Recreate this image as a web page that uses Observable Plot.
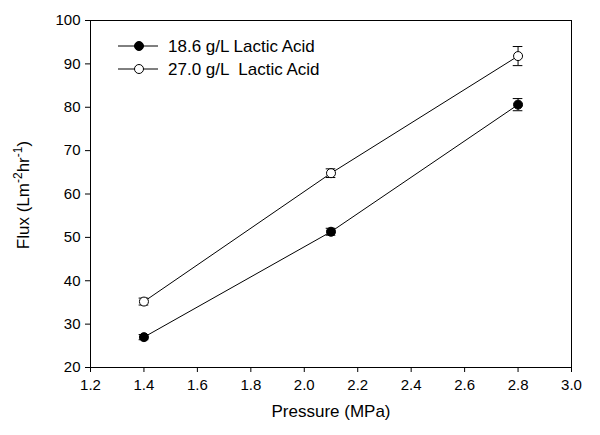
<!DOCTYPE html>
<html>
<head>
<meta charset="utf-8">
<script src="https://cdn.jsdelivr.net/npm/d3@7"></script>
<script src="https://cdn.jsdelivr.net/npm/@observablehq/plot@0.6"></script>
<style>
  html, body { margin: 0; padding: 0; background: #fff; }
  svg { font-family: "Liberation Sans", Arial, sans-serif; }
</style>
</head>
<body>
<div id="chart"></div>
<script>
const pressure = [1.4, 2.1, 2.8];
const flux186 = [27.0, 51.3, 80.6];
const err186 = [0.6, 0.8, 1.4];
const flux270 = [35.2, 64.8, 91.8];
const err270 = [0.8, 1.0, 2.2];
const seriesNames = ["18.6 g/L Lactic Acid", "27.0 g/L  Lactic Acid"];
const xTicks = [1.2, 1.4, 1.6, 1.8, 2.0, 2.2, 2.4, 2.6, 2.8, 3.0];
const yTicks = [20, 30, 40, 50, 60, 70, 80, 90, 100];

const s1 = pressure.map((x, i) => ({x, y: flux186[i], e: err186[i], s: 0}));
const s2 = pressure.map((x, i) => ({x, y: flux270[i], e: err270[i], s: 1}));
const all = s1.concat(s2);
const cap = 0.018;

const plot = Plot.plot({
  width: 600,
  height: 435,
  marginLeft: 90,
  marginRight: 29,
  marginTop: 20,
  marginBottom: 68,
  style: {fontFamily: "Liberation Sans, Arial, sans-serif", fontSize: "15px", color: "#000", background: "#fff"},
  x: {domain: [1.2, 3.0], ticks: xTicks, tickFormat: d => d.toFixed(1), tickSize: 5, tickPadding: 7, label: null},
  y: {domain: [20, 100], ticks: yTicks, tickSize: 5, tickPadding: 5, label: null},
  marks: [
    Plot.frame({stroke: "#000", strokeWidth: 1}),
    Plot.ruleX(all, {x: "x", y1: d => d.y - d.e, y2: d => d.y + d.e, stroke: "#000", strokeWidth: 1}),
    Plot.ruleY(all, {y: d => d.y + d.e, x1: d => d.x - cap, x2: d => d.x + cap, stroke: "#000", strokeWidth: 1}),
    Plot.ruleY(all, {y: d => d.y - d.e, x1: d => d.x - cap, x2: d => d.x + cap, stroke: "#000", strokeWidth: 1}),
    Plot.line(s1, {x: "x", y: "y", stroke: "#000", strokeWidth: 1}),
    Plot.line(s2, {x: "x", y: "y", stroke: "#000", strokeWidth: 1}),
    Plot.dot(s1, {x: "x", y: "y", r: 4.5, fill: "#000", stroke: "#000", strokeWidth: 1}),
    Plot.dot(s2, {x: "x", y: "y", r: 4.5, fill: "#fff", stroke: "#000", strokeWidth: 1})
  ]
});

document.getElementById("chart").appendChild(plot);

const svg = d3.select(plot);
svg.selectAll('g[aria-label="x-axis tick label"], g[aria-label="y-axis tick label"]')
  .attr("font-size", 15).style("font-size", "15px");

// axis titles
svg.append("text")
  .attr("x", 331).attr("y", 417)
  .attr("text-anchor", "middle")
  .attr("font-size", 17)
  .attr("fill", "#000")
  .text("Pressure (MPa)");

const yl = svg.append("text")
  .attr("transform", "translate(29,195) rotate(-90)")
  .attr("text-anchor", "middle")
  .attr("font-size", 17)
  .attr("fill", "#000");
yl.append("tspan").text("Flux (Lm");
yl.append("tspan").attr("baseline-shift", "super").attr("font-size", 12).text("-2");
yl.append("tspan").text("hr");
yl.append("tspan").attr("baseline-shift", "super").attr("font-size", 12).text("-1");
yl.append("tspan").text(")");

// legend
const leg = svg.append("g");
[0, 1].forEach(i => {
  const y = 46 + i * 23;
  leg.append("line").attr("x1", 118).attr("x2", 158).attr("y1", y).attr("y2", y).attr("stroke", "#000");
  leg.append("circle").attr("cx", 139).attr("cy", y).attr("r", 4.5)
    .attr("fill", i === 0 ? "#000" : "#fff").attr("stroke", "#000");
  leg.append("text").attr("x", 168).attr("y", y + 6).attr("font-size", 17).attr("fill", "#000")
    .attr("text-anchor", "start")
    .style("white-space", "pre").text(seriesNames[i]);
});
</script>
</body>
</html>
